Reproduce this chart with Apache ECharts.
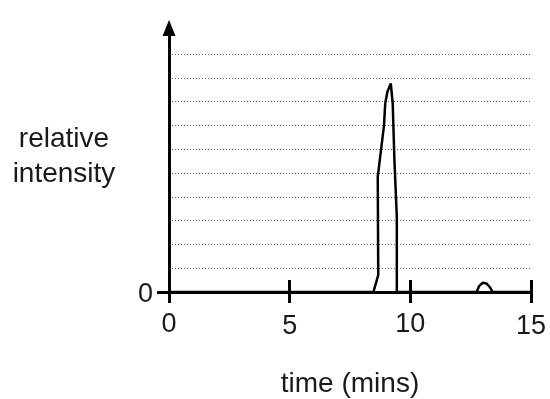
<!DOCTYPE html>
<html>
<head>
<meta charset="utf-8">
<script src="https://cdn.jsdelivr.net/npm/echarts@6/dist/echarts.min.js"></script>
<style>
  html, body { margin: 0; padding: 0; background: #fff; }
  #chart { width: 550px; height: 399px; }
</style>
</head>
<body>
<div id="chart"></div>
<script>
// trace: time in mins, intensity in grid units
var times = [0, 8.47, 8.67, 8.65, 8.91, 8.96, 9.05, 9.19, 9.25, 9.27, 9.34, 9.44, 9.44, 12.75, 12.85, 13.0, 13.15, 13.3, 13.41, 15];
var intensity = [0, 0, 0.71, 4.84, 7.02, 7.93, 8.42, 8.77, 8.84, 7.93, 5.55, 3.16, 0, 0, 0.25, 0.39, 0.36, 0.2, 0, 0];
var xTicks = [0, 5, 10, 15];
var gridValues = [1, 2, 3, 4, 5, 6, 7, 8, 9, 10];

var font = "'Liberation Sans', Arial, sans-serif";
var ink = "#1a1a1a";

var chart = echarts.init(document.getElementById("chart"));
chart.setOption({
  animation: false,
  grid: { left: 169, right: 19, top: 28, bottom: 107, containLabel: false, outerBoundsMode: "none" },
  xAxis: [
    {
      type: "value", position: "bottom", min: 0, max: 15, interval: 5,
      name: "time (mins)", nameLocation: "middle", nameGap: 78,
      nameTextStyle: { fontFamily: font, fontSize: 28, color: ink },
      axisLine: { lineStyle: { color: "#000", width: 3 } },
      axisTick: { inside: false, length: 11, lineStyle: { color: "#000", width: 3 } },
      axisLabel: {
        customValues: xTicks, fontFamily: font, fontSize: 27, color: ink, margin: 19,
        // the 5 and 15 sit a little lower in the original
        formatter: function (v) { return v % 10 === 5 ? "{lo|" + v + "}" : String(v); },
        rich: { lo: { fontFamily: font, fontSize: 27, color: ink, padding: [2, 0, 0, 0] } },
      },
      splitLine: { show: false },
    },
    {
      type: "value", position: "bottom", min: 0, max: 15, interval: 5,
      axisLine: { show: false },
      axisTick: { inside: true, length: 12, lineStyle: { color: "#000", width: 3 } },
      axisLabel: { show: false },
      splitLine: { show: false },
    },
  ],
  yAxis: [
    {
      type: "value", position: "left", min: 0, max: 11.1,
      name: "{a|relative}\n{a|intensity}\n{s| }", nameLocation: "middle", nameRotate: 0, nameGap: 105,
      nameTextStyle: {
        align: "center",
        rich: {
          a: { fontFamily: font, fontSize: 28, color: ink, lineHeight: 35, align: "center" },
          s: { fontSize: 1, lineHeight: 7 },
        },
      },
      axisLine: {
        show: true, symbol: ["none", "triangle"], symbolSize: [13, 16],
        lineStyle: { color: "#000", width: 3 },
      },
      axisTick: { show: true, customValues: [0], length: 12, lineStyle: { color: "#000", width: 3 } },
      axisLabel: {
        customValues: [0], fontFamily: font, fontSize: 27, color: ink, margin: 16,
        formatter: "{{lo|{value}}}".replace("{{", "{").replace("}}", "}"),
        rich: { lo: { fontFamily: font, fontSize: 27, color: ink, padding: [6, 0, 0, 0] } },
      },
      splitLine: { show: false },
    },
    {
      type: "value", position: "left", min: 0, max: 11.1,
      axisLine: { show: false },
      axisTick: { show: false, customValues: gridValues },
      axisLabel: { show: false },
      splitLine: { show: true, lineStyle: { color: "#666", width: 1, type: [1, 2] } },
    },
  ],
  series: [
    {
      type: "line",
      xAxisIndex: 0,
      yAxisIndex: 0,
      data: times.map(function (t, i) { return [t, intensity[i]]; }),
      showSymbol: false,
      smooth: false,
      lineStyle: { color: "#000", width: 2.5 },
      z: 3,
    },
  ],
});
</script>
</body>
</html>
